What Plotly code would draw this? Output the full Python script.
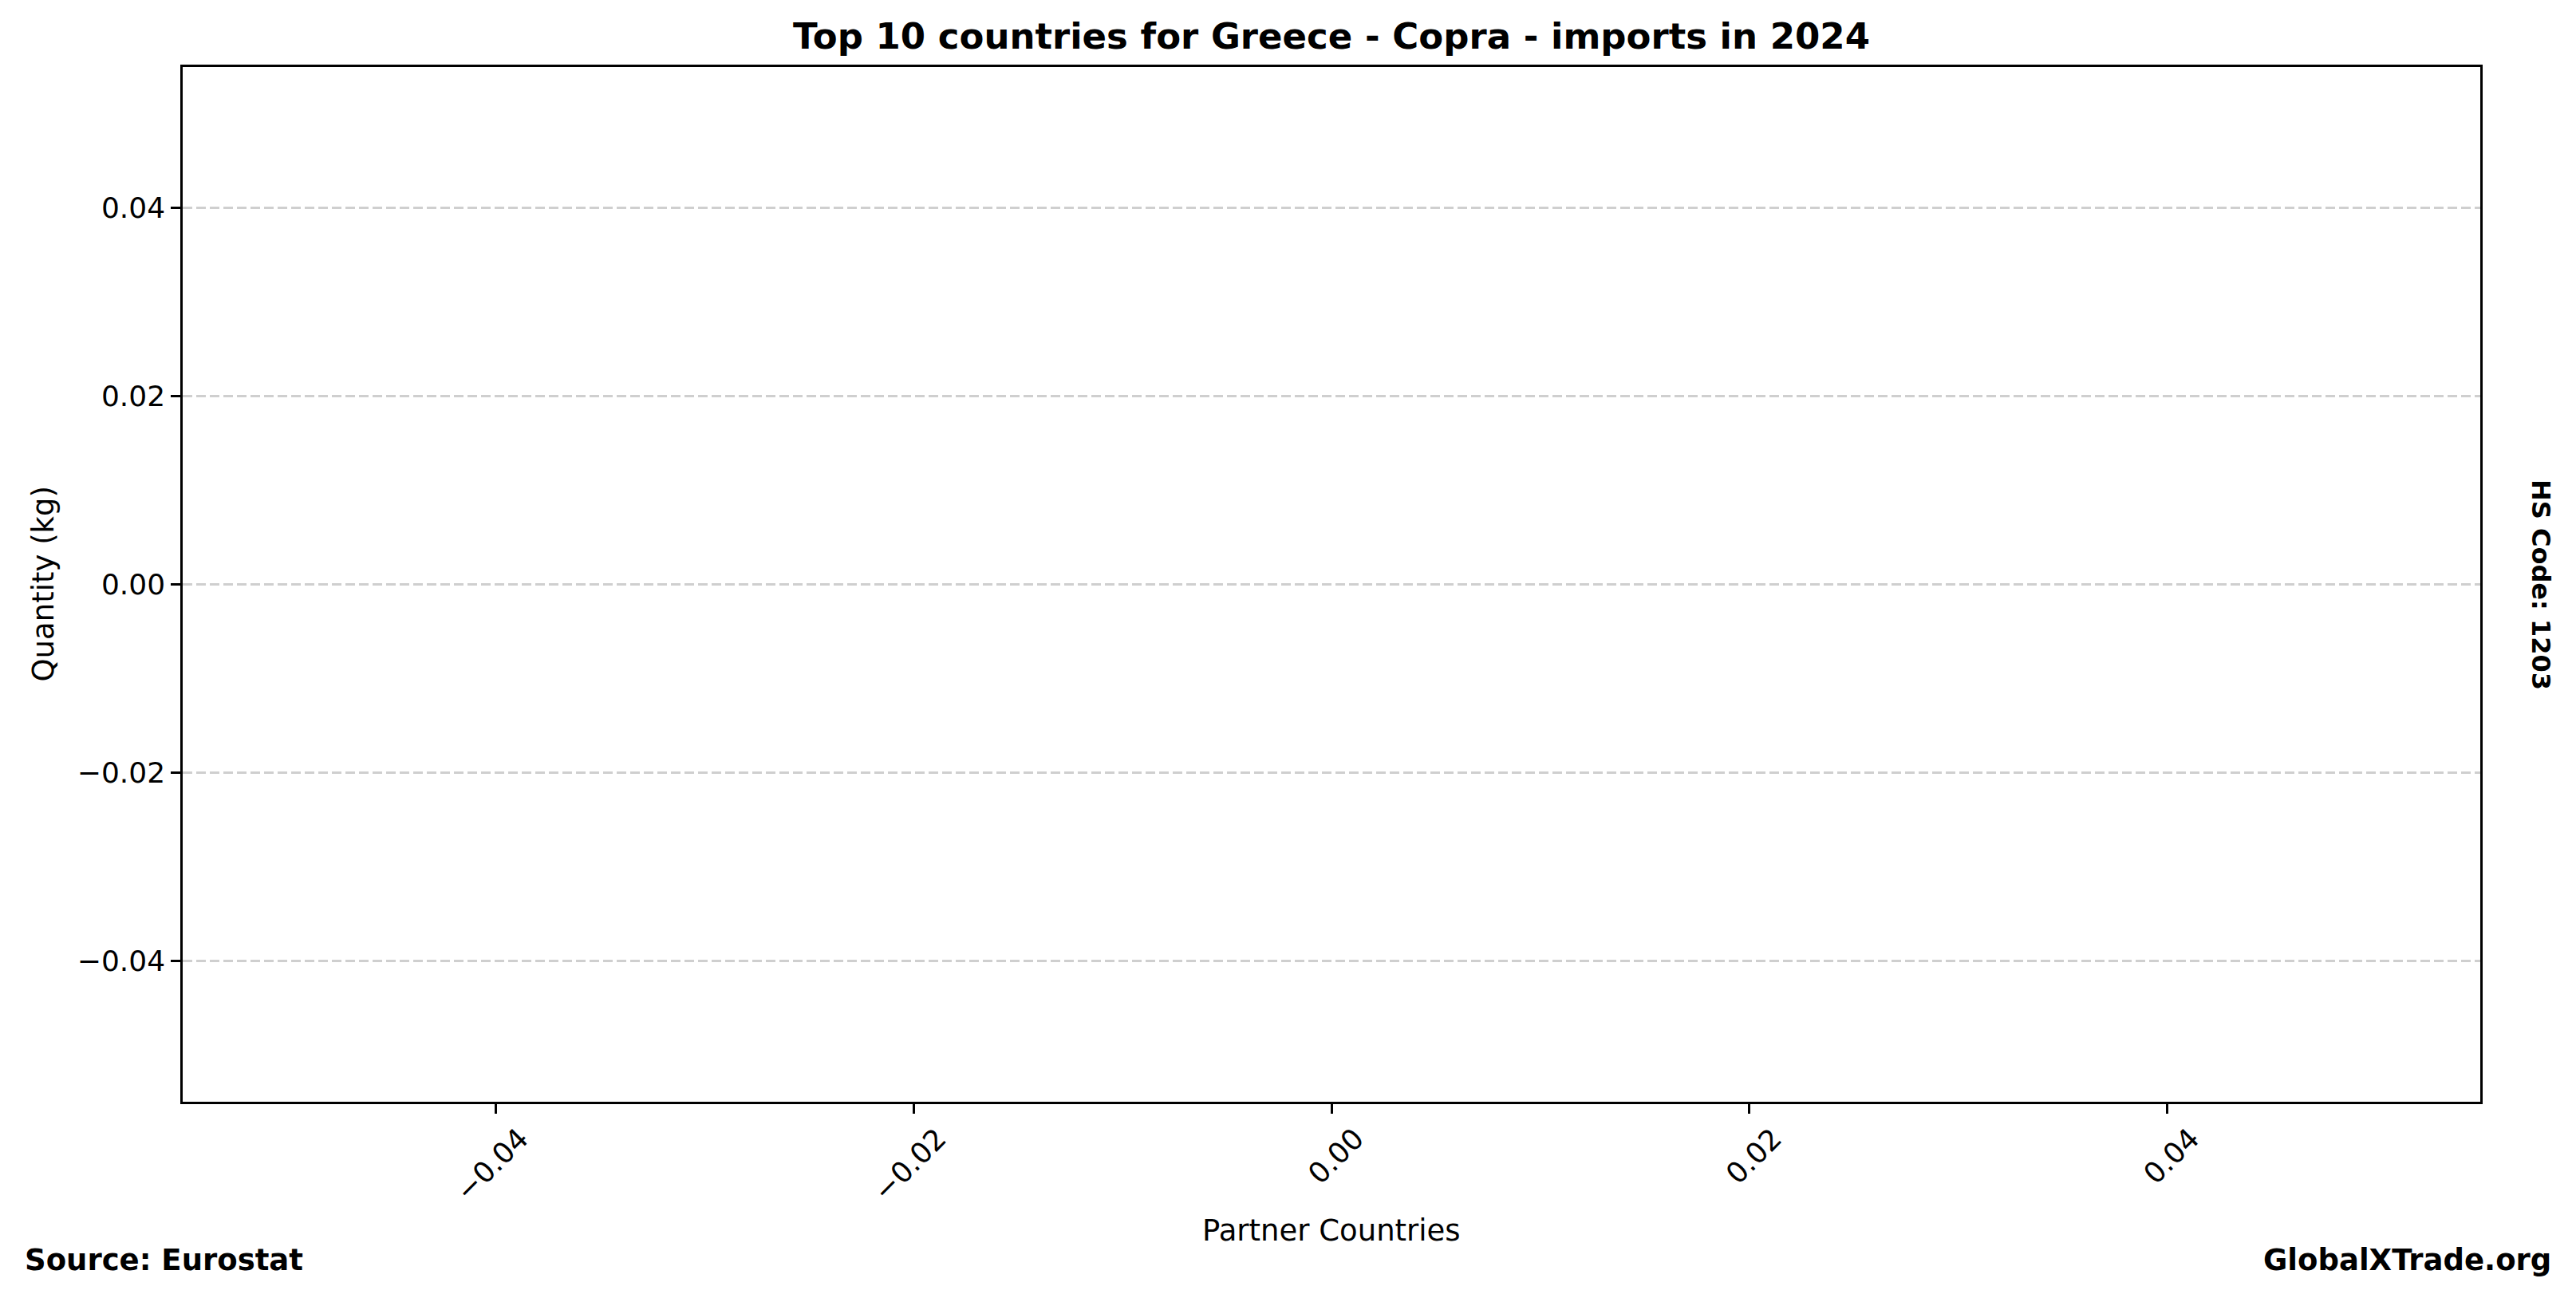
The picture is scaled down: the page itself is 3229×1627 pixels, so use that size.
import plotly.graph_objects as go

# Data (the reference chart is empty: no partner countries reported)
countries = []
quantities = []
y_tick_values = [-0.04, -0.02, 0.00, 0.02, 0.04]
x_tick_values = [-0.04, -0.02, 0.00, 0.02, 0.04]

title_text = "Top 10 countries for Greece - Copra - imports in 2024"
x_title = "Partner Countries"
y_title = "Quantity (kg)"
source_text = "Source: Eurostat"
brand_text = "GlobalXTrade.org"
hs_text = "HS Code: 1203"

# page has an 8px body margin; work in page coordinates and convert
OFF = 8
W, H = 3229 - 2 * OFF, 1627 - 2 * OFF
L, R, T, B = 229, 3109, 84, 1381  # plot area in page pixels
FONT = "DejaVu Sans"

fig = go.Figure()
fig.add_trace(go.Bar(x=countries, y=quantities, marker_color="#1f77b4", showlegend=False))

axis_common = dict(
    type="linear",
    range=[-0.055, 0.055],
    showline=True, linecolor="black", linewidth=2.5, mirror=True,
    ticks="outside", ticklen=12, tickwidth=2.5, tickcolor="black",
    tickformat=".2f",
    tickfont=dict(family=FONT, size=36, color="black"),
    zeroline=False,
)

fig.update_layout(
    width=W, height=H,
    margin=dict(l=L - OFF, r=W - (R - OFF), t=T - OFF, b=H - (B - OFF), pad=0),
    paper_bgcolor="white", plot_bgcolor="white",
    font=dict(family=FONT, color="black"),
    title=dict(text="<b>" + title_text + "</b>", x=((L + R) / 2 - OFF) / W, xanchor="center",
               y=1 - (45 - OFF) / H, yanchor="middle",
               font=dict(family=FONT, size=45, color="black")),
    xaxis=dict(**axis_common, tickvals=x_tick_values, tickangle=-45, showgrid=False,
               ticklabelshift=30, ticklabelstandoff=-4),
    yaxis=dict(**axis_common, tickvals=y_tick_values, showgrid=True,
               gridcolor="#cfcfcf", gridwidth=2.5, griddash="12px,5px"),
)


def px(xp):
    return (xp - L) / (R - L)


def py(yp):
    return (B - yp) / (B - T)


annotations = [
    dict(text=y_title, xref="paper", yref="paper", x=px(54), y=0.5,
         xanchor="center", yanchor="middle", textangle=-90, showarrow=False,
         font=dict(family=FONT, size=37, color="black")),
    dict(text=x_title, xref="paper", yref="paper", x=0.5, y=py(1542),
         xanchor="center", yanchor="middle", showarrow=False,
         font=dict(family=FONT, size=37, color="black")),
    dict(text="<b>" + source_text + "</b>", xref="paper", yref="paper",
         x=px(29), y=py(1579),
         xanchor="left", yanchor="middle", showarrow=False,
         font=dict(family=FONT, size=37, color="black")),
    dict(text="<b>" + brand_text + "</b>", xref="paper", yref="paper",
         x=px(3200), y=py(1579),
         xanchor="right", yanchor="middle", showarrow=False,
         font=dict(family=FONT, size=37, color="black")),
    dict(text="<b>" + hs_text + "</b>", xref="paper", yref="paper",
         x=px(3185), y=py(733),
         xanchor="center", yanchor="middle", textangle=90, showarrow=False,
         font=dict(family=FONT, size=32, color="black")),
]
fig.update_layout(annotations=annotations)

fig.write_html("out.html")
